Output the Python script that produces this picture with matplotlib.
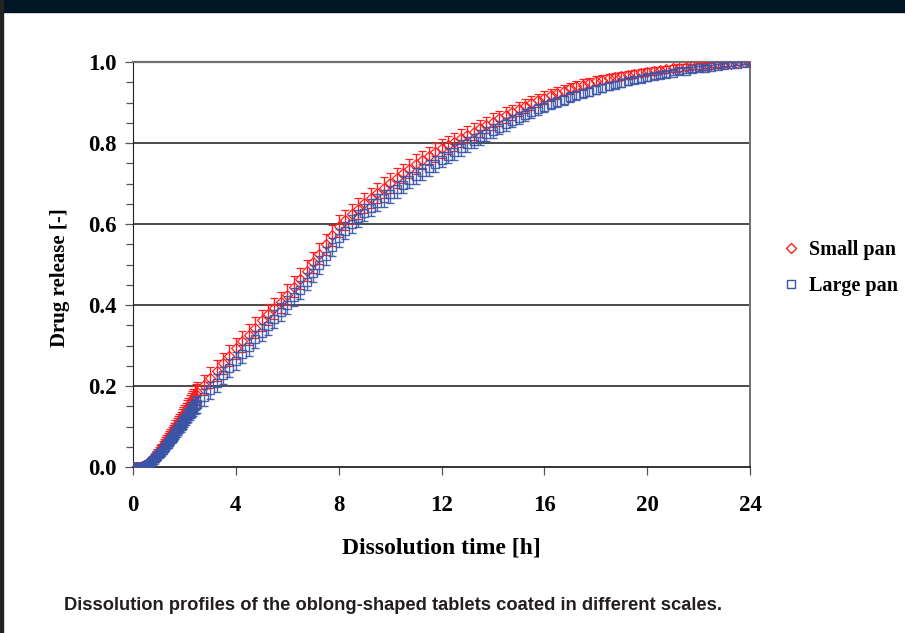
import numpy as np
import matplotlib
matplotlib.use("Agg")
from matplotlib import pyplot as plt
from matplotlib.patches import Rectangle
from matplotlib.ticker import MultipleLocator
from matplotlib.lines import Line2D

# sampling times [h]: every 3 min at the start, then every 15 min
t_early = list(np.arange(0.0, 2.451, 0.05))
t_late = list(np.arange(2.5, 24.001, 0.25))

# small pan (red)
small_early = [0, 0, 0, 0, 0, .001, .001, .002, .003, .004,
               .006, .008, .011, .014, .017, .020, .024, .027, .031, .035,
               .039, .043, .047, .052, .056, .060, .065, .070, .074, .079,
               .083, .088, .093, .098, .103, .108, .113, .118, .123, .128,
               .133, .138, .144, .149, .155, .160, .165, .170, .176, .180]
small_late = [.185, .203, .22, .238, .256, .275, .293, .31, .327, .344, .362,
              .377, .392, .407, .425, .445, .465, .485, .505, .527, .55, .572,
              .595, .61, .624, .638, .652, .665, .677, .69, .702, .714, .725,
              .737, .748, .758, .768, .777, .787, .795, .803, .812, .82, .828,
              .837, .845, .853, .861, .869, .876, .884, .891, .898, .905, .912,
              .918, .924, .929, .935, .94, .944, .949, .953, .956, .96, .963,
              .966, .969, .971, .974, .976, .978, .98, .982, .984, .986, .987,
              .989, .99, .991, .993, .994, .995, .996, .997, .999, 1.0]
small_err_early = [0, 0, 0, 0, 0, .001, .001, .002, .002, .003,
                   .003, .004, .005, .006, .006, .007, .008, .008, .009, .010,
                   .010, .011, .011, .012, .012, .013, .013, .014, .014, .015,
                   .015, .016, .016, .017, .017, .018, .018, .019, .019, .020,
                   .020, .021, .021, .022, .022, .023, .023, .023, .024, .024]
small_err_late = [.025, .025, .026, .026, .026, .026, .026, .026, .026, .026,
                  .026, .026, .026, .026, .026, .026, .026, .026, .026, .026,
                  .026, .026, .026, .025, .025, .025, .025, .025, .025, .025,
                  .025, .024, .024, .024, .024, .023, .023, .023, .023, .022,
                  .022, .022, .021, .021, .021, .020, .020, .019, .019, .018,
                  .018, .017, .017, .016, .016, .015, .015, .014, .014, .013,
                  .013, .012, .012, .011, .011, .011, .010, .010, .010, .009,
                  .009, .009, .008, .008, .008, .008, .007, .007, .007, .007,
                  .006, .006, .006, .005, .005, .005, .004]

# large pan (blue)
large_early = [0, 0, 0, 0, 0, 0, 0, .001, .001, .002,
               .003, .005, .007, .009, .012, .015, .018, .021, .024, .027,
               .031, .034, .038, .042, .046, .050, .054, .058, .062, .066,
               .071, .075, .080, .084, .089, .093, .098, .102, .107, .111,
               .116, .120, .125, .129, .134, .138, .142, .146, .150, .153]
large_late = [.155, .172, .19, .208, .226, .244, .262, .28, .297, .315, .332,
              .349, .366, .383, .4, .419, .438, .458, .478, .499, .521, .543,
              .565, .583, .6, .614, .628, .64, .652, .663, .674, .686, .697,
              .708, .719, .729, .739, .749, .759, .769, .778, .788, .797, .805,
              .814, .822, .83, .838, .846, .854, .862, .869, .876, .883, .89,
              .896, .902, .907, .913, .918, .923, .927, .932, .936, .94, .944,
              .948, .952, .955, .959, .962, .965, .968, .971, .974, .977, .979,
              .982, .984, .986, .988, .99, .992, .994, .996, .998, 1.0]
large_err_early = [0, 0, 0, 0, 0, 0, 0, .001, .001, .002,
                   .002, .003, .003, .004, .004, .005, .005, .006, .006, .007,
                   .007, .008, .008, .009, .009, .010, .010, .011, .011, .012,
                   .012, .013, .013, .014, .014, .015, .015, .015, .016, .016,
                   .016, .017, .017, .017, .018, .018, .018, .019, .019, .019]
large_err_late = [.021, .021, .021, .022, .022, .022, .022, .022, .022, .022,
                  .022, .022, .022, .022, .022, .022, .022, .022, .022, .022,
                  .022, .022, .022, .021, .021, .021, .021, .021, .021, .021,
                  .021, .021, .021, .020, .020, .020, .020, .020, .019, .019,
                  .019, .019, .018, .018, .018, .017, .017, .016, .016, .015,
                  .015, .014, .014, .014, .013, .013, .012, .012, .012, .011,
                  .011, .011, .010, .010, .010, .009, .009, .009, .008, .008,
                  .008, .008, .007, .007, .007, .007, .006, .006, .006, .006,
                  .005, .005, .005, .005, .004, .004, .004]

t = np.array(t_early + t_late)
small = np.array(small_early + small_late)
small_err = np.array(small_err_early + small_err_late)
large = np.array(large_early + large_late)
large_err = np.array(large_err_early + large_err_late)

red = "#ff1f1f"
blue = "#3a55a8"
serif = ["Liberation Serif", "DejaVu Serif"]

fig = plt.figure(figsize=(9.05, 6.33), dpi=100)

# page frame: navy bar on top, dark rule on the left
fig.patches.append(Rectangle((0, 1 - 12 / 633), 1, 12 / 633, transform=fig.transFigure,
                             color="#001624", zorder=0))
fig.patches.append(Rectangle((0, 0), 3 / 905, 1, transform=fig.transFigure,
                             color="#222222", zorder=0))

ax = fig.add_axes([133 / 905, 1 - 467 / 633, (750 - 133) / 905, (467 - 62) / 633])

ax.errorbar(t, small, yerr=small_err, fmt="D", ms=5.5, mfc="none", mec=red,
            mew=0.9, ecolor=red, elinewidth=1.0, capsize=3, capthick=1.1,
            zorder=3)
ax.errorbar(t, large, yerr=large_err, fmt="s", ms=6, mfc="none", mec=blue,
            mew=1.0, ecolor=blue, elinewidth=1.0, capsize=3, capthick=1.1,
            alpha=0.9, zorder=4)

ax.set_xlim(0, 24)
ax.set_ylim(0, 1.0)
ax.set_xticks([0, 4, 8, 12, 16, 20, 24])
ax.set_xticklabels(["0", "4", "8", "12", "16", "20", "24"])
ax.set_yticks([0.0, 0.2, 0.4, 0.6, 0.8, 1.0])
ax.set_yticklabels(["0.0", "0.2", "0.4", "0.6", "0.8", "1.0"])
ax.yaxis.set_minor_locator(MultipleLocator(0.05))

for y in [0.2, 0.4, 0.6, 0.8]:
    ax.axhline(y, color="#1a1a1a", lw=1.1, zorder=1)

ax.spines["top"].set_color("#707070")
ax.spines["right"].set_color("#707070")
ax.spines["top"].set_linewidth(1.6)
ax.spines["right"].set_linewidth(1.4)
ax.spines["left"].set_color("#222222")
ax.spines["bottom"].set_color("#111111")
ax.spines["bottom"].set_linewidth(1.2)

ax.tick_params(axis="both", which="major", direction="out", length=6,
               width=0.9, color="#555555")
ax.tick_params(axis="y", which="minor", direction="out", length=5,
               width=0.9, color="#555555")
ax.tick_params(axis="x", pad=14)
ax.tick_params(axis="y", pad=6)
for lab in ax.get_xticklabels() + ax.get_yticklabels():
    lab.set_fontfamily(serif)
    lab.set_fontweight("bold")
    lab.set_fontsize(16.5)

ax.set_xlabel("Dissolution time [h]", fontfamily=serif, fontweight="bold",
              fontsize=17)
ax.set_ylabel("Drug release [-]", fontfamily=serif, fontweight="bold",
              fontsize=15)
ax.xaxis.set_label_coords((441 - 133) / 617, (467 - 548) / 405)
ax.yaxis.set_label_coords((60 - 133) / 617, (467 - 278) / 405)
ax.xaxis.label.set_va("center")
ax.yaxis.label.set_va("center")

handles = [Line2D([], [], ls="none", marker="D", ms=5, mfc="none", mec=red, mew=1),
           Line2D([], [], ls="none", marker="s", ms=6, mfc="none", mec=blue, mew=1)]
fig.legend(handles, ["Small pan", "Large pan"], loc="center left",
           bbox_to_anchor=(765 / 905, 1 - 268 / 633), frameon=False,
           prop={"family": serif, "weight": "bold", "size": 14.5},
           handlelength=0.8, handletextpad=0.5, labelspacing=0.75)

fig.text(64 / 905, 1 - 605 / 633,
         "Dissolution profiles of the oblong-shaped tablets coated in different scales.",
         fontfamily=["Liberation Sans Narrow", "Liberation Sans", "DejaVu Sans"],
         fontweight="bold", fontsize=13.2, color="#231f20", va="center", ha="left")

fig.savefig("out.png", dpi=100)
